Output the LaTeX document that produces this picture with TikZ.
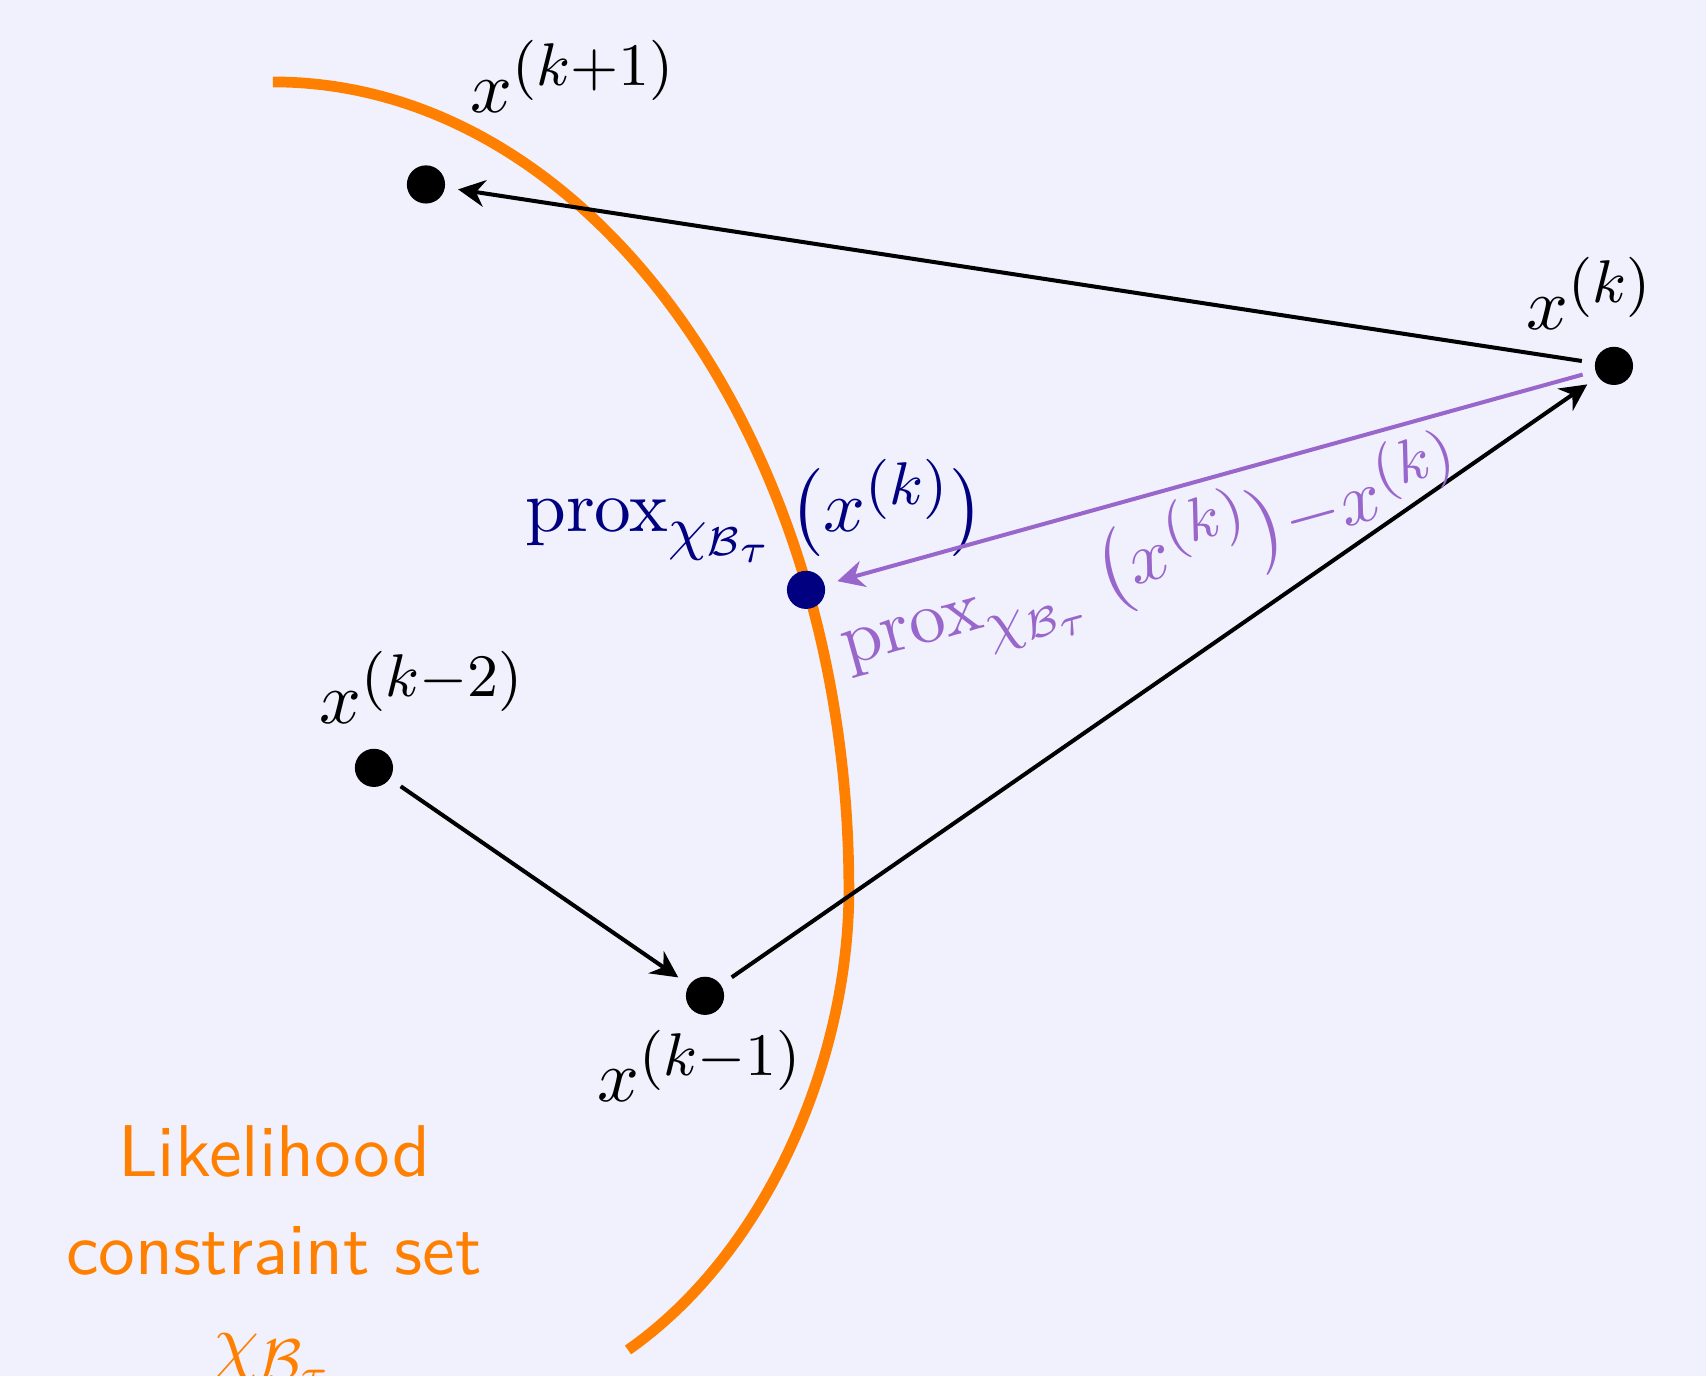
\documentclass[11pt,tikz,border=0pt]{standalone}
\usepackage{amsmath}
\usetikzlibrary{arrows.meta}
\DeclareMathSizes{10.95}{10.95}{9}{6}
\definecolor{bgcol}{RGB}{240,241,252}
\definecolor{setcol}{RGB}{255,128,0}
\definecolor{proxcol}{RGB}{0,0,128}
\definecolor{diffcol}{RGB}{153,102,204}
\tikzset{dot/.style={circle, fill=black, inner sep=0pt, minimum size=5.7pt, outer sep=2pt},
  move/.style={semithick, -{Stealth[length=4pt, width=4pt]}}}

\begin{document}
\begin{tikzpicture}
            % fond et cadre
            \fill[bgcol] (0,0) rectangle (8.951,7.219);
            \useasboundingbox (0,0) rectangle (8.951,7.219);

            % bord de l'ensemble de contrainte
            \draw[setcol, line width=1.6pt] (1.432,6.789)
                arc[start angle=90, end angle=0, x radius=3.022, y radius=4.239]
                to[out=-90, in=35, looseness=0.85] (3.295,0.136);
            \node[setcol, font=\sffamily, align=center, anchor=north] (set) at (1.438,1.45)
                {Likelihood\\[1pt] constraint set\\ $\chi_{\mathcal{B}_\tau}$};

            % Les itérés
            \node[dot] (xkm2) at (1.962,3.190) {};
            \node[dot] (xkm1) at (3.699,1.994) {};
            \node[dot] (xk) at (8.468,5.299) {};
            \node[dot] (xkp1) at (2.235,6.251) {};
            \node[dot, fill=proxcol] (prox) at (4.229,4.124) {};

            \node (lkm2) at (2.217,3.612) {$x^{(k-2)}$};
            \node (lkm1) at (3.678,1.626) {$x^{(k-1)}$};
            \node (lk) at (8.342,5.679) {$x^{(k)}$};
            \node (lkp1) at (3.012,6.818) {$x^{(k+1)}$};
            \node[proxcol] (lprox) at (3.961,4.538) {$\operatorname{prox}_{\chi_{\mathcal{B}_\tau}}\,\bigl(x^{(k)}\bigr)$};

            % Les pas
            \draw[move] (xkm2) -- (xkm1);
            \draw[move] (xkm1) -- (xk);
            \draw[move] (xk) -- (xkp1);
            \draw[move, diffcol] (xk) -- node[pos=0.6, below, sloped, inner sep=1.5pt] (ldiff)
                {$\operatorname{prox}_{\chi_{\mathcal{B}_\tau}}\,\bigl(x^{(k)}\bigr){-}x^{(k)}$} (prox);
        \end{tikzpicture}
\end{document}
